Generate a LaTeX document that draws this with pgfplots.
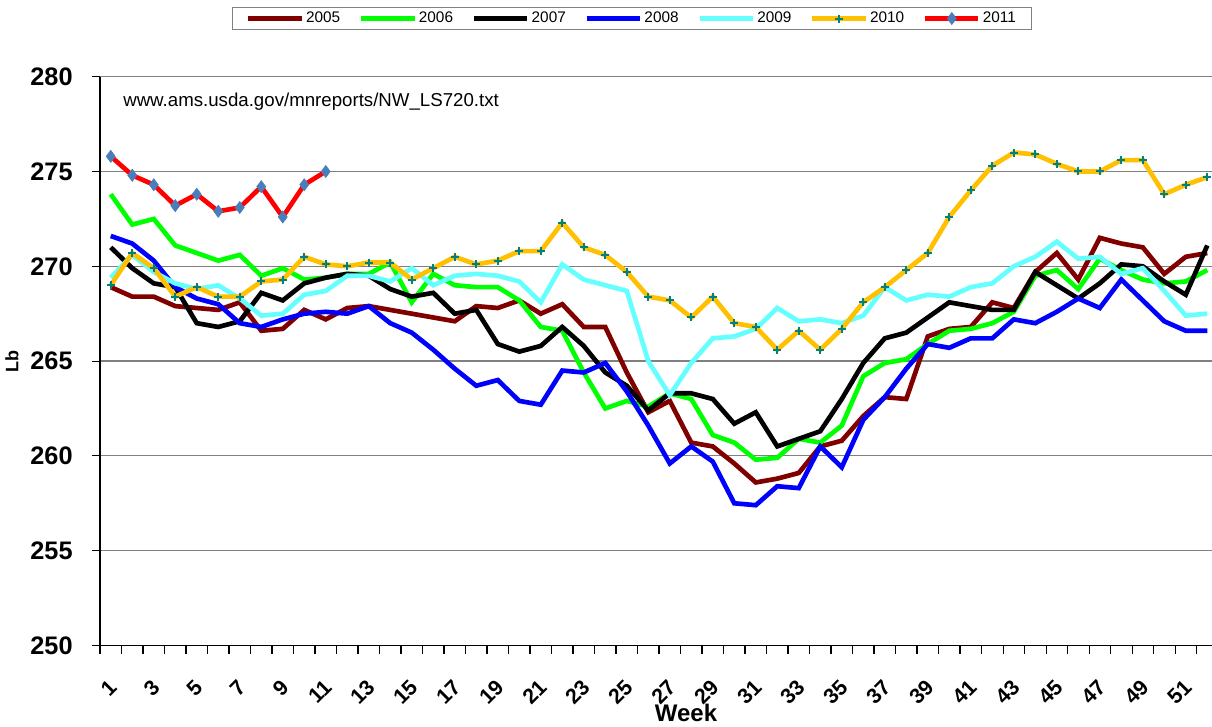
\documentclass[border=0pt]{standalone}
\usepackage{pgfplots}
\usepackage{pgfplotstable}
\pgfplotsset{compat=1.18}
\usepackage{fontspec}
\setmainfont{Liberation Sans}
\definecolor{c05}{RGB}{128,0,0}
\definecolor{c06}{RGB}{0,255,0}
\definecolor{c08}{RGB}{0,0,255}
\definecolor{c09}{RGB}{102,255,255}
\definecolor{c10}{RGB}{255,192,0}
\definecolor{c11}{RGB}{255,0,0}
\definecolor{m10}{RGB}{0,128,128}
\definecolor{m11}{RGB}{74,126,187}
\definecolor{gridc}{RGB}{128,128,128}
\pgfplotstableread{
w y05 y06 y07 y08 y09 y10
1 268.9 273.8 271.0 271.6 269.4 269.0
2 268.4 272.2 269.9 271.2 270.6 270.7
3 268.4 272.5 269.1 270.3 269.7 269.9
4 267.9 271.1 268.9 268.9 269.1 268.4
5 267.8 270.7 267.0 268.3 268.8 268.9
6 267.7 270.3 266.8 268.0 269.0 268.4
7 268.1 270.6 267.1 267.0 268.3 268.4
8 266.6 269.5 268.6 266.8 267.4 269.2
9 266.7 269.9 268.2 267.2 267.5 269.3
10 267.7 269.3 269.1 267.5 268.5 270.5
11 267.2 269.4 269.4 267.6 268.7 270.1
12 267.8 269.6 269.6 267.5 269.5 270.0
13 267.9 269.6 269.5 267.9 269.5 270.2
14 267.7 270.2 268.8 267.0 269.2 270.2
15 267.5 268.1 268.4 266.5 269.9 269.3
16 267.3 269.6 268.6 265.6 269.0 269.9
17 267.1 269.0 267.5 264.6 269.5 270.5
18 267.9 268.9 267.7 263.7 269.6 270.1
19 267.8 268.9 265.9 264.0 269.5 270.3
20 268.2 268.2 265.5 262.9 269.2 270.8
21 267.5 266.8 265.8 262.7 268.1 270.8
22 268.0 266.6 266.8 264.5 270.1 272.3
23 266.8 264.4 265.8 264.4 269.3 271.0
24 266.8 262.5 264.4 264.9 269.0 270.6
25 264.4 262.9 263.7 263.4 268.7 269.7
26 262.3 262.6 262.4 261.6 265.0 268.4
27 262.9 263.3 263.3 259.6 263.2 268.2
28 260.7 263.0 263.3 260.5 264.9 267.3
29 260.5 261.1 263.0 259.7 266.2 268.4
30 259.6 260.7 261.7 257.5 266.3 267.0
31 258.6 259.8 262.3 257.4 266.7 266.8
32 258.8 259.9 260.5 258.4 267.8 265.6
33 259.1 260.9 260.9 258.3 267.1 266.6
34 260.5 260.7 261.3 260.5 267.2 265.6
35 260.8 261.6 263.0 259.4 267.0 266.7
36 262.1 264.2 264.9 261.9 267.4 268.1
37 263.1 264.9 266.2 263.1 268.9 268.9
38 263.0 265.1 266.5 264.6 268.2 269.8
39 266.3 265.9 267.3 265.9 268.5 270.7
40 266.7 266.6 268.1 265.7 268.4 272.6
41 266.8 266.7 267.9 266.2 268.9 274.0
42 268.1 267.0 267.7 266.2 269.1 275.3
43 267.8 267.6 267.7 267.2 270.0 276.0
44 269.7 269.5 269.7 267.0 270.5 275.9
45 270.7 269.8 269.0 267.6 271.3 275.4
46 269.3 268.8 268.3 268.3 270.4 275.0
47 271.5 270.4 269.1 267.8 270.5 275.0
48 271.2 269.8 270.1 269.3 269.6 275.6
49 271.0 269.3 270.0 268.2 269.9 275.6
50 269.6 269.1 269.2 267.1 268.7 273.8
51 270.5 269.2 268.5 266.6 267.4 274.3
52 270.7 269.8 271.1 266.6 267.5 274.7
}\main
\pgfplotstableread{
w y11
1 275.8
2 274.8
3 274.3
4 273.2
5 273.8
6 272.9
7 273.1
8 274.2
9 272.6
10 274.3
11 275.0
}\yeleven
\begin{document}
\begin{tikzpicture}
\useasboundingbox (-75pt,-61.125pt) rectangle (834pt,484.125pt);
\begin{axis}[
  at={(0pt,0pt)}, anchor=south west,
  scale only axis, width=834pt, height=426.6pt,
  xmin=0.5, xmax=52.22, ymin=250, ymax=280,
  axis lines=left,
  axis line style={black, line width=1.2pt, -},
  ytick={250,255,...,280},
  ymajorgrids, grid style={gridc, line width=0.9pt},
  xtick={1,3,...,51},
  minor xtick={0.5,1.5,...,52.5},
  major x tick style={draw=none},
  tick align=outside,
  major tick length=6pt, minor tick length=6pt,
  tick style={black, line width=0.8pt},
  /pgf/number format/assume math mode=true,
  y tick label style={font=\bfseries\fontsize{19}{19}\selectfont, xshift=-11pt},
  x tick label style={font=\bfseries\fontsize{16}{16}\selectfont, xshift=4pt, yshift=-20pt, rotate=45, anchor=east},
  xlabel={Week},
  xlabel style={font=\bfseries\fontsize{18}{18}\selectfont, at={(axis description cs:0.527,-0.1186)}, anchor=center},
  ylabel={Lb},
  ylabel style={font=\bfseries\fontsize{13.5}{13.5}\selectfont, at={(axis description cs:-0.0791,0.5)}, anchor=center},
  legend columns=7,
  legend style={at={(0.4784,1.1023)}, anchor=center, draw=gridc, line width=0.6pt,
    font=\fontsize{11.5}{11.5}\selectfont, inner xsep=10pt, inner ysep=2pt,
    nodes={inner sep=1.5pt},
    /tikz/every even column/.append style={column sep=12.5pt}},
  legend image code/.code={\draw[mark repeat=2,mark phase=2,#1] plot coordinates {(0pt,0pt) (20pt,0pt) (40pt,0pt)};},
  every axis plot/.append style={line width=3.5pt},
]
\addplot[c05, no marks] table[x=w,y=y05] {\main};
\addlegendentry{2005}
\addplot[c06, no marks] table[x=w,y=y06] {\main};
\addlegendentry{2006}
\addplot[black, no marks] table[x=w,y=y07] {\main};
\addlegendentry{2007}
\addplot[c08, no marks] table[x=w,y=y08] {\main};
\addlegendentry{2008}
\addplot[c09, no marks] table[x=w,y=y09] {\main};
\addlegendentry{2009}
\addplot[c10, mark=+, mark size=3pt, mark options={draw=m10, line width=1.5pt}] table[x=w,y=y10] {\main};
\addlegendentry{2010}
\addplot[c11, mark=diamond*, mark size=4.5pt, mark options={draw=m11, fill=m11, line width=0.5pt}] table[x=w,y=y11] {\yeleven};
\addlegendentry{2011}
\node[anchor=west, font=\fontsize{14}{14}\selectfont, inner sep=0pt] at (axis description cs:0.0207,0.9555) {www.ams.usda.gov/mnreports/NW\_LS720.txt};
\end{axis}
\end{tikzpicture}
\end{document}
